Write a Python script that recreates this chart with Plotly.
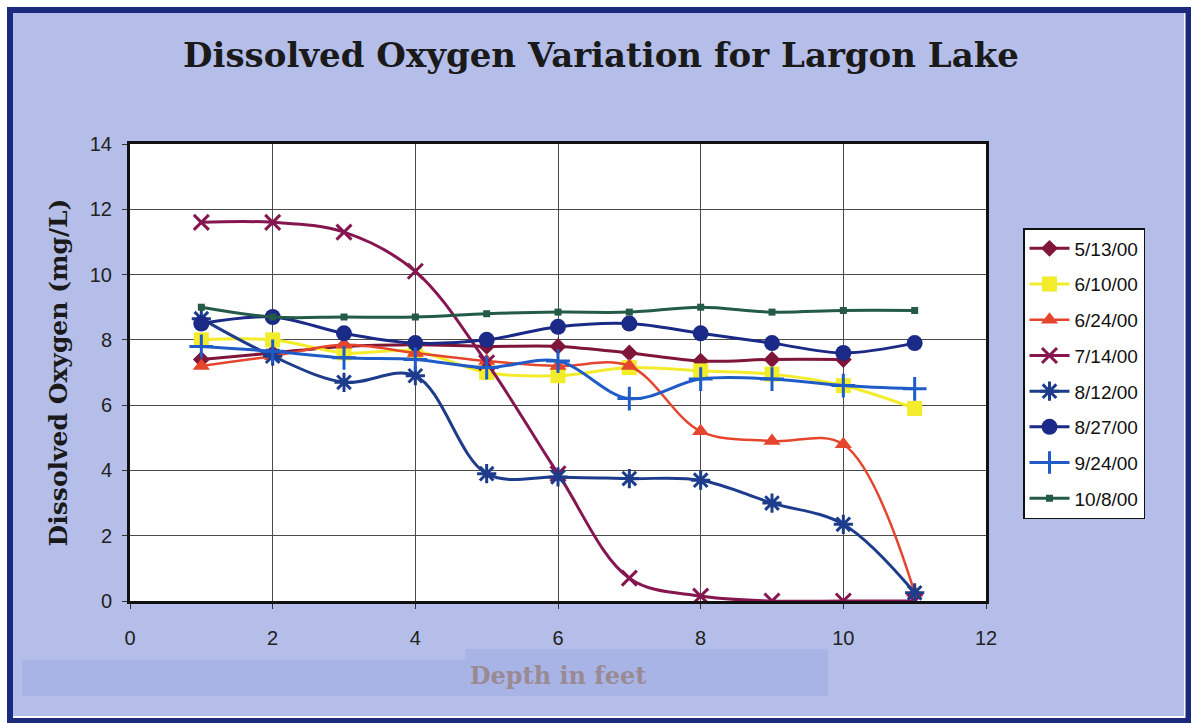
import plotly.graph_objects as go

# Depth (feet) at which each reading was taken
depth = [1, 2, 3, 4, 5, 6, 7, 8, 9, 10, 11]

# Dissolved oxygen (mg/L) by sampling date
do_0513 = [7.4, 7.6, 7.8, 7.85, 7.8, 7.8, 7.6, 7.35, 7.4, 7.4, None]
do_0610 = [8.0, 8.0, 7.6, 7.65, 7.0, 6.9, 7.15, 7.05, 6.95, 6.6, 5.9]
do_0624 = [7.2, 7.5, 7.85, 7.6, 7.35, 7.2, 7.2, 5.2, 4.9, 4.8, 0.25]
do_0714 = [11.6, 11.6, 11.3, 10.1, 7.3, 3.9, 0.7, 0.15, 0.0, 0.0, 0.0]
do_0812 = [8.65, 7.5, 6.7, 6.9, 3.9, 3.8, 3.75, 3.7, 3.0, 2.35, 0.25]
do_0827 = [8.5, 8.7, 8.2, 7.9, 8.0, 8.4, 8.5, 8.2, 7.9, 7.6, 7.9]
do_0924 = [7.8, 7.65, 7.45, 7.4, 7.15, 7.35, 6.2, 6.8, 6.8, 6.6, 6.5]
do_1008 = [9.0, 8.7, 8.7, 8.7, 8.8, 8.85, 8.85, 9.0, 8.85, 8.9, 8.9]

dates = ["5/13/00", "6/10/00", "6/24/00", "7/14/00",
         "8/12/00", "8/27/00", "9/24/00", "10/8/00"]
series = [do_0513, do_0610, do_0624, do_0714, do_0812, do_0827, do_0924, do_1008]

styles = [
    dict(color="#7f1538", symbol="diamond", size=13, lw=3),
    dict(color="#f2ec2a", symbol="square", size=15, lw=3),
    dict(color="#e5452c", symbol="triangle-up", size=15, lw=2.5),
    dict(color="#861650", symbol="x-thin-open", size=15, lw=3),
    dict(color="#1e3c8c", symbol="asterisk-open", size=16, lw=3),
    dict(color="#1a2a86", symbol="circle", size=16, lw=3),
    dict(color="#1f5cc8", symbol="cross-thin-open", size=17, lw=3),
    dict(color="#245a48", symbol="square", size=7, lw=3),
]

W, H = 1191, 723
L, R, T, B = 130, 986, 144, 601


def px_x(p):
    return (p - L) / (R - L)


def px_y(p):
    return (B - p) / (B - T)


fig = go.Figure()
for i, (name, vals, st) in enumerate(zip(dates, series, styles)):
    thin = st["symbol"].endswith("-open")
    fig.add_trace(go.Scatter(
        x=depth, y=vals, name=name, mode="lines+markers",
        legendgroup=f"g{i}",
        connectgaps=False,
        line=dict(color=st["color"], width=st["lw"], shape="spline", smoothing=1.0),
        marker=dict(symbol=st["symbol"], size=st["size"], color=st["color"],
                    line=dict(color=st["color"], width=3 if thin else 0)),
    ))

fig.update_layout(
    width=W, height=H,
    margin=dict(l=L, r=W - R, t=T, b=H - B),
    paper_bgcolor="#b4bee9",
    plot_bgcolor="white",
    title=dict(
        text="<b>Dissolved Oxygen Variation for Largon Lake</b>",
        x=601 / W, xref="container", xanchor="center",
        y=1 - 55 / H, yref="container", yanchor="middle",
        font=dict(family="DejaVu Serif", size=34, color="#1a1a1a"),
    ),
    showlegend=True,
    legend=dict(
        x=px_x(1023), y=px_y(228), xanchor="left", yanchor="top",
        bgcolor="white", bordercolor="#111", borderwidth=1.5,
        font=dict(family="Liberation Sans, Arial", size=19, color="#111"),
        traceorder="grouped", tracegroupgap=8,
        itemwidth=40,
    ),
    xaxis=dict(
        range=[0, 12], dtick=2, tick0=0,
        showgrid=True, gridcolor="#4a4a4a", gridwidth=1,
        zeroline=False,
        showline=True, linecolor="#111", linewidth=3, mirror=True,
        ticks="outside", ticklen=5, tickcolor="#333",
        ticklabelstandoff=12,
        tickfont=dict(family="Liberation Sans, Arial", size=20, color="#222"),
        title=dict(
            text="<b>Depth in feet</b>",
            font=dict(family="DejaVu Serif", size=24, color="#9a8a93"),
            standoff=20,
        ),
    ),
    yaxis=dict(
        range=[0, 14], dtick=2, tick0=0,
        showgrid=True, gridcolor="#4a4a4a", gridwidth=1,
        zeroline=False,
        showline=True, linecolor="#111", linewidth=3, mirror=True,
        ticks="outside", ticklen=5, tickcolor="#333",
        ticklabelstandoff=6,
        tickfont=dict(family="Liberation Sans, Arial", size=20, color="#222"),
        title=dict(
            text="<b>Dissolved Oxygen (mg/L)</b>",
            font=dict(family="DejaVu Serif", size=25, color="#1a1a1a"),
            standoff=16,
        ),
    ),
    shapes=[
        # lighter band behind the depth label
        dict(type="path", xref="paper", yref="paper", layer="below",
             path=(f"M {px_x(22)} {px_y(660)} L {px_x(465)} {px_y(660)} "
                   f"L {px_x(465)} {px_y(649)} L {px_x(828)} {px_y(649)} "
                   f"L {px_x(828)} {px_y(696)} L {px_x(22)} {px_y(696)} Z"),
             fillcolor="#a9b4e6", line=dict(width=0)),
        # outer white margin and navy frame
        dict(type="rect", xref="paper", yref="paper", layer="above",
             x0=px_x(0), x1=px_x(W), y0=px_y(H), y1=px_y(0),
             line=dict(color="white", width=14), fillcolor="rgba(0,0,0,0)"),
        dict(type="rect", xref="paper", yref="paper", layer="above",
             x0=px_x(10), x1=px_x(1188.5), y0=px_y(721), y1=px_y(10),
             line=dict(color="#1b2a7c", width=6), fillcolor="rgba(0,0,0,0)"),
    ],
)

fig.write_html("out.html")
